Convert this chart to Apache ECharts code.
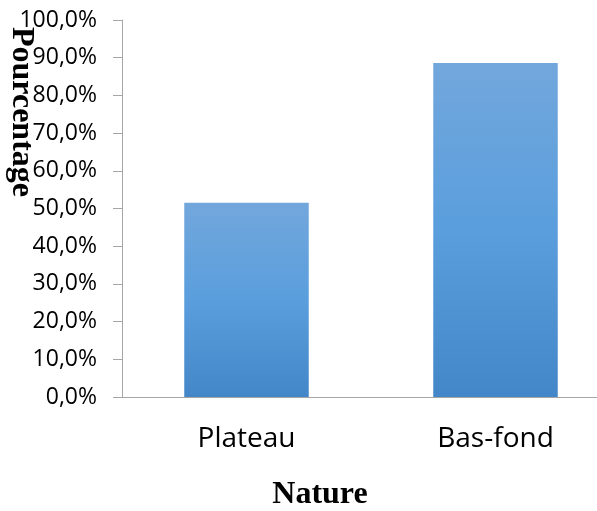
<!DOCTYPE html>
<html>
<head>
<meta charset="utf-8">
<script src="https://cdn.jsdelivr.net/npm/echarts@6/dist/echarts.min.js"></script>
<style>
  html, body { margin: 0; padding: 0; background: #ffffff; }
  #chart { width: 597px; height: 511px; }
</style>
</head>
<body>
<div id="chart"></div>
<script>
// Share of each terrain type (percent)
const categories = ['Plateau', 'Bas-fond'];
const values = [51.5, 88.6];
const yTicks = { min: 0, max: 100, step: 10 };
const xTitle = 'Nature';
const yTitle = 'Pourcentage';

const chart = echarts.init(document.getElementById('chart'), null, { renderer: 'canvas' });

const axisGray = '#a6a6a6';
const barFill = new echarts.graphic.LinearGradient(0, 0, 0, 1, [
  { offset: 0, color: '#72a7dc' },
  { offset: 0.5, color: '#5a9edd' },
  { offset: 1, color: '#4387c8' }
]);

chart.setOption({
  animation: false,
  backgroundColor: '#ffffff',
  // plot area runs past the right edge of the canvas
  grid: {
    left: 122, top: 20, width: 498, height: 377,
    containLabel: false,
    outerBoundsMode: 'none'
  },
  xAxis: {
    type: 'category',
    data: categories,
    boundaryGap: true,
    axisLine: { lineStyle: { color: axisGray, width: 1 } },
    axisTick: { length: 10, lineStyle: { color: axisGray } },
    axisLabel: {
      margin: 28,
      fontFamily: 'Open Sans',
      fontSize: 28,
      color: '#000000'
    }
  },
  yAxis: {
    type: 'value',
    min: yTicks.min,
    max: yTicks.max,
    interval: yTicks.step,
    splitLine: { show: false },
    axisLine: { show: true, lineStyle: { color: axisGray, width: 1 } },
    axisTick: { show: true, length: 9, lineStyle: { color: axisGray } },
    axisLabel: {
      margin: 25,
      fontFamily: 'Open Sans',
      fontSize: 23,
      color: '#000000',
      formatter: v => v.toFixed(1).replace('.', ',') + '%'
    }
  },
  series: [{
    type: 'bar',
    data: values,
    barWidth: '50%',
    itemStyle: { color: barFill }
  }],
  graphic: [
    {
      type: 'text',
      x: 320, y: 495,
      style: {
        text: xTitle,
        fontFamily: 'Liberation Serif',
        fontWeight: 'bold',
        fontSize: 32,
        fill: '#000000',
        align: 'center',
        verticalAlign: 'middle'
      }
    },
    {
      type: 'text',
      x: 21, y: 112,
      rotation: -Math.PI / 2,
      style: {
        text: yTitle,
        fontFamily: 'Liberation Serif',
        fontWeight: 'bold',
        fontSize: 32,
        fill: '#000000',
        align: 'center',
        verticalAlign: 'middle'
      }
    }
  ]
});
</script>
</body>
</html>
